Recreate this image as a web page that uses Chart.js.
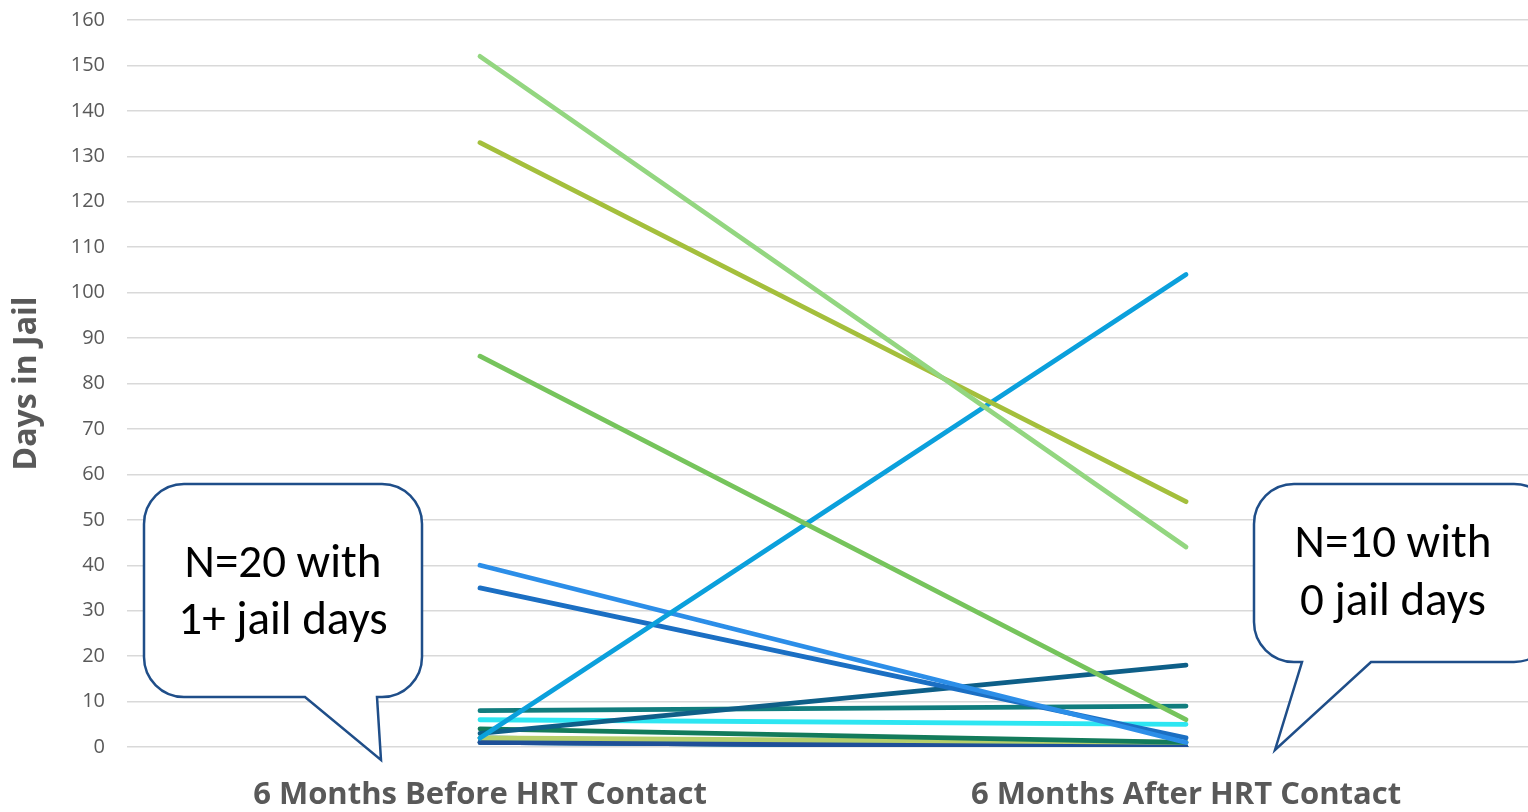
<!DOCTYPE html>
<html>
<head>
<meta charset="utf-8">
<script src="https://cdn.jsdelivr.net/npm/chart.js@4"></script>
<style>
  html, body { margin: 0; padding: 0; background: #fff; overflow: hidden; }
  #wrap { position: relative; width: 1528px; height: 812px; overflow: hidden; }
  #myChart { position: absolute; left: 0; top: -14px; }
</style>
</head>
<body>
<div id="wrap"><canvas id="myChart" width="1539" height="826"></canvas></div>
<script>
// categories and per-client jail days (before / after)
var categories = ['6 Months Before HRT Contact', '6 Months After HRT Contact'];
var daysBefore = [152, 133, 86, 2, 40, 35, 3, 8, 6, 4, 2, 1, 1, 2, 1];
var daysAfter  = [44, 54, 6, 104, 1, 2, 18, 9, 5, 1, 1, 0, 0, 0, 0];
var yTicks = [0, 10, 20, 30, 40, 50, 60, 70, 80, 90, 100, 110, 120, 130, 140, 150, 160];
var callouts = [
    { lines: ['N=20 with', '1+ jail days'] },
    { lines: ['N=10 with', '0 jail days'] }
];

var lineColors = ['#93D680', '#A4BF3C', '#76C45C', '#0BA0DC', '#2C8EE8', '#1B6FC3',
                  '#0E5F88', '#117D7E', '#2DE6F2', '#137B5B', '#B6CF6B', '#1F4F98',
                  '#0A76AA', '#136BA5', '#0F5E8E'];

var datasets = daysBefore.map(function (b, i) {
    return {
        label: 'Client ' + (i + 1),
        data: [b, daysAfter[i]],
        borderColor: lineColors[i],
        backgroundColor: lineColors[i],
        borderWidth: 4.8,
        borderCapStyle: 'round',
        pointRadius: 0,
        tension: 0
    };
});

var AXIS_FONT = "'Open Sans', 'Liberation Sans', sans-serif";
var NOTE_FONT = "Carlito, 'Open Sans', sans-serif";
var SHIFT = 14; // canvas sits 14px above the visible frame

// speech bubbles drawn on top of the chart
var calloutPlugin = {
    id: 'callouts',
    afterDraw: function (chart) {
        var c = chart.ctx;
        var shapes = [
            { x: 144, y: 484, w: 278, h: 213, r: 40, tail: [[377, 697], [381, 760], [305, 697]], tx: 283, ty: [565, 622] },
            { x: 1254, y: 484, w: 300, h: 178, r: 40, tail: [[1371, 662], [1275, 750], [1302, 662]], tx: 1393, ty: [545, 603] }
        ];
        shapes.forEach(function (s, k) {
            c.save();
            c.translate(0, SHIFT);
            c.beginPath();
            var x = s.x, y = s.y, w = s.w, h = s.h, r = s.r;
            c.moveTo(x + r, y);
            c.lineTo(x + w - r, y);
            c.arcTo(x + w, y, x + w, y + r, r);
            c.lineTo(x + w, y + h - r);
            c.arcTo(x + w, y + h, x + w - r, y + h, r);
            c.lineTo(s.tail[0][0], y + h);
            c.lineTo(s.tail[1][0], s.tail[1][1]);
            c.lineTo(s.tail[2][0], y + h);
            c.lineTo(x + r, y + h);
            c.arcTo(x, y + h, x, y + h - r, r);
            c.lineTo(x, y + r);
            c.arcTo(x, y, x + r, y, r);
            c.closePath();
            c.fillStyle = '#ffffff';
            c.fill();
            c.strokeStyle = '#1F4E89';
            c.lineWidth = 2.5;
            c.stroke();
            c.fillStyle = '#000000';
            c.font = '47px ' + NOTE_FONT;
            c.textAlign = 'center';
            c.textBaseline = 'middle';
            callouts[k].lines.forEach(function (t, j) {
                c.fillText(t, s.tx, s.ty[j]);
            });
            c.restore();
        });
    }
};

var ctx = document.getElementById('myChart').getContext('2d');
var myChart = new Chart(ctx, {
    type: 'line',
    data: {
        labels: categories,
        datasets: datasets
    },
    options: {
        responsive: false,
        animation: false,
        layout: {
            padding: { top: 0, right: 0, left: 0, bottom: 0 }
        },
        plugins: {
            legend: { display: false },
            tooltip: { enabled: false }
        },
        scales: {
            x: {
                offset: true,
                grid: { display: false },
                border: { display: false },
                ticks: {
                    color: '#595959',
                    font: { family: AXIS_FONT, size: 31, weight: 'bold' },
                    padding: 22
                },
                afterFit: function (scale) { scale.height = 65; }
            },
            y: {
                min: 0,
                max: 160,
                afterBuildTicks: function (scale) {
                    scale.ticks = yTicks.map(function (v) { return { value: v }; });
                },
                grid: { color: '#D9D9D9', lineWidth: 1.5, drawTicks: false },
                border: { display: false },
                ticks: {
                    color: '#595959',
                    font: { family: AXIS_FONT, size: 20 },
                    padding: 22
                },
                title: {
                    display: true,
                    text: 'Days in Jail',
                    color: '#595959',
                    font: { family: AXIS_FONT, size: 32, weight: 'bold' },
                    padding: { top: 8, bottom: 4 }
                },
                afterFit: function (scale) { scale.width = 127; }
            }
        }
    },
    plugins: [calloutPlugin]
});
</script>
</body>
</html>
